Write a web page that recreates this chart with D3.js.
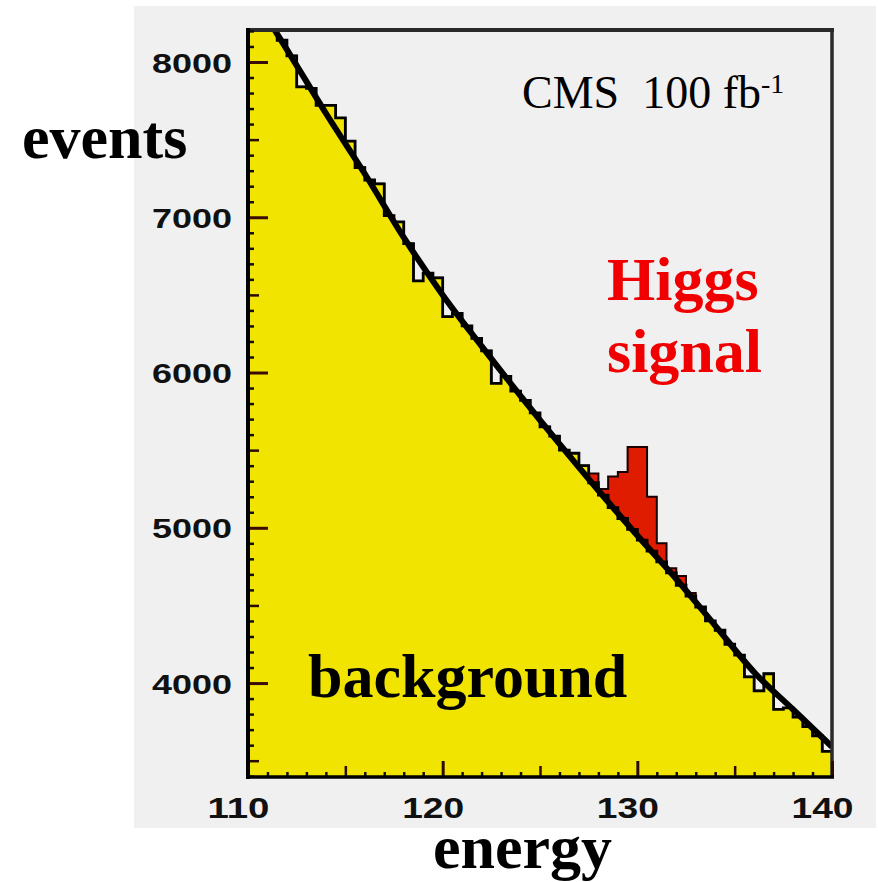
<!DOCTYPE html>
<html>
<head>
<meta charset="utf-8">
<script src="https://cdn.jsdelivr.net/npm/d3@7"></script>
<style>
  html, body { margin: 0; padding: 0; background: #fff; }
  svg { display: block; }
</style>
</head>
<body>
<svg id="chart" width="878" height="882"></svg>
<script>
// --- data ---
const energyRange = [110, 140];
const binWidth = 0.5;
const countRange = [3395, 8206];

// background histogram, 0.5 GeV bins from 110 to 140
const backgroundCounts = [
  8450, 8340, 8220, 8140, 8040, 7840, 7830, 7720, 7720, 7640,
  7490, 7320, 7240, 7215, 7010, 6970, 6830, 6590, 6640, 6610,
  6360, 6380, 6300, 6220, 6140, 5930, 5975, 5880, 5820, 5740,
  5650, 5590, 5500, 5480, 5400, 5290, 5210, 5130, 5060, 4990,
  4920, 4850, 4780, 4710, 4630, 4560, 4490, 4400, 4340, 4250,
  4180, 4040, 3950, 4060, 3830, 3840, 3780, 3720, 3660, 3560
];
// higgs excess on top of the background, same bins
const signalCounts = [
  0, 0, 0, 0, 0, 0, 0, 0, 0, 0,
  0, 0, 0, 0, 0, 0, 0, 0, 0, 0,
  0, 0, 0, 0, 0, 0, 0, 0, 0, 0,
  0, 0, 0, 0, 0, 60, 40, 200, 300, 530,
  600, 350, 120, 30, 60, 20, 0, 0, 0, 0,
  0, 0, 0, 0, 0, 0, 0, 0, 0, 0
];
// smooth background fit
const fitEnergy = [110, 112, 114, 116, 118, 120, 122, 124, 126, 128, 130, 132, 134, 136, 138, 140];
const fitCounts = [8480, 8080, 7670, 7280, 6870, 6500, 6170, 5850, 5540, 5240, 4950, 4670, 4370, 4070, 3830, 3590];

const xTicks = [110, 120, 130, 140];
const yTicks = [4000, 5000, 6000, 7000, 8000];

// --- layout ---
const plot = { left: 248, right: 832, top: 30, bottom: 777 };
const svg = d3.select("#chart");

const x = d3.scaleLinear().domain(energyRange).range([plot.left, plot.right]);
const y = d3.scaleLinear().domain(countRange).range([plot.bottom, plot.top]);

// grey panel behind the whole figure
svg.append("rect")
  .attr("x", 134).attr("y", 6).attr("width", 742).attr("height", 822)
  .attr("fill", "#f0f0f0");

svg.append("clipPath").attr("id", "clip")
  .append("rect")
  .attr("x", plot.left).attr("y", plot.top)
  .attr("width", plot.right - plot.left).attr("height", plot.bottom - plot.top);

const g = svg.append("g").attr("clip-path", "url(#clip)");

const binStarts = backgroundCounts.map((_, i) => energyRange[0] + i * binWidth);
const stepData = vals => {
  const pts = vals.map((v, i) => ({ e: binStarts[i], v }));
  pts.push({ e: energyRange[1], v: vals[vals.length - 1] });
  return pts;
};

const area = d3.area()
  .x(d => x(d.e)).y0(y(countRange[0]) + 5).y1(d => y(d.v))
  .curve(d3.curveStepAfter);
const stepLine = d3.line()
  .x(d => x(d.e)).y(d => y(d.v))
  .curve(d3.curveStepAfter);

const totalCounts = backgroundCounts.map((v, i) => v + signalCounts[i]);

// signal + background (red), then background (yellow) on top
g.append("path").datum(stepData(totalCounts))
  .attr("d", area).attr("fill", "#e01c00");
g.append("path").datum(stepData(totalCounts))
  .attr("d", stepLine).attr("fill", "none")
  .attr("stroke", "#1a0000").attr("stroke-width", 2);

g.append("path").datum(stepData(backgroundCounts))
  .attr("d", area).attr("fill", "#f0e400");
g.append("path").datum(stepData(backgroundCounts))
  .attr("d", stepLine).attr("fill", "none")
  .attr("stroke", "#000").attr("stroke-width", 2.8);

// background fit curve
g.append("path")
  .datum(fitEnergy.map((e, i) => ({ e, v: fitCounts[i] })))
  .attr("d", d3.line().x(d => x(d.e)).y(d => y(d.v)).curve(d3.curveMonotoneX))
  .attr("fill", "none").attr("stroke", "#000").attr("stroke-width", 6);

// --- frame ---
svg.append("line")
  .attr("x1", plot.left).attr("x2", plot.right + 2)
  .attr("y1", plot.top).attr("y2", plot.top)
  .attr("stroke", "#2a2a2a").attr("stroke-width", 4);
svg.append("line")
  .attr("x1", plot.right).attr("x2", plot.right)
  .attr("y1", plot.top).attr("y2", plot.bottom)
  .attr("stroke", "#2a2a2a").attr("stroke-width", 3.5);

// --- axes: minor, medium and major ticks drawn inward ---
const yMinor = d3.range(3400, 8201, 100);

const yAxisG = svg.append("g").attr("transform", `translate(${plot.left},0)`)
  .call(d3.axisLeft(y).tickValues(yMinor.filter(v => v % 500 !== 0)).tickSize(-6).tickFormat(""));
yAxisG.selectAll(".tick line").attr("stroke", "#111").attr("stroke-width", 2.5);
yAxisG.select(".domain").remove();

const yMid = svg.append("g").attr("transform", `translate(${plot.left},0)`)
  .call(d3.axisLeft(y).tickValues(yMinor.filter(v => v % 500 === 0 && v % 1000 !== 0)).tickSize(-11).tickFormat(""));
yMid.selectAll(".tick line").attr("stroke", "#2a0a05").attr("stroke-width", 2.5);
yMid.select(".domain").remove();

const yMaj = svg.append("g").attr("transform", `translate(${plot.left},0)`)
  .call(d3.axisLeft(y).tickValues(yTicks).tickSize(-20).tickPadding(16).tickFormat(d3.format("d")));
yMaj.selectAll(".tick line").attr("stroke", "#3a0c06").attr("stroke-width", 3);
yMaj.select(".domain").remove();
yMaj.selectAll(".tick text")
  .attr("fill", "#111")
  .attr("font-family", "'Liberation Sans', Arial, sans-serif")
  .attr("font-weight", "bold")
  .attr("font-size", 28)
  .attr("dy", "0.36em")
  .attr("textLength", 80)
  .attr("lengthAdjust", "spacingAndGlyphs");

const xMinor = d3.range(111, 140, 1);
const xAxisG = svg.append("g").attr("transform", `translate(0,${plot.bottom})`)
  .call(d3.axisBottom(x).tickValues(xMinor.filter(v => v % 5 !== 0)).tickSize(-5).tickFormat(""));
xAxisG.selectAll(".tick line").attr("stroke", "#111").attr("stroke-width", 2.5);
xAxisG.select(".domain").remove();

const xMid = svg.append("g").attr("transform", `translate(0,${plot.bottom})`)
  .call(d3.axisBottom(x).tickValues(xMinor.filter(v => v % 5 === 0 && v % 10 !== 0)).tickSize(-11).tickFormat(""));
xMid.selectAll(".tick line").attr("stroke", "#2a0a05").attr("stroke-width", 2.5);
xMid.select(".domain").remove();

const xMaj = svg.append("g").attr("transform", `translate(0,${plot.bottom})`)
  .call(d3.axisBottom(x).tickValues(xTicks).tickSize(-16).tickPadding(20).tickFormat(d3.format("d")));
xMaj.selectAll(".tick line").attr("stroke", "#2a0a05").attr("stroke-width", 3);
xMaj.select(".domain").remove();
xMaj.selectAll(".tick text")
  .attr("fill", "#111")
  .attr("font-family", "'Liberation Sans', Arial, sans-serif")
  .attr("font-weight", "bold")
  .attr("font-size", 30)
  .attr("dx", -10)
  .attr("textLength", 62)
  .attr("lengthAdjust", "spacingAndGlyphs");

// axis lines
svg.append("line")
  .attr("x1", plot.left).attr("x2", plot.left)
  .attr("y1", plot.top - 2).attr("y2", plot.bottom + 2)
  .attr("stroke", "#000").attr("stroke-width", 4);
svg.append("line")
  .attr("x1", plot.left - 2).attr("x2", plot.right + 2)
  .attr("y1", plot.bottom).attr("y2", plot.bottom)
  .attr("stroke", "#000").attr("stroke-width", 3.5);

// --- labels ---
const serif = "'Liberation Serif', 'Times New Roman', serif";
const label = (txt, px, py, opts = {}) => svg.append("text")
  .attr("x", px).attr("y", py)
  .attr("font-family", serif)
  .attr("font-weight", opts.weight || "bold")
  .attr("font-size", opts.size || 62)
  .attr("fill", opts.fill || "#000")
  .style("white-space", "pre")
  .text(txt);

label("events", 22, 158);
label("energy", 433, 868);
label("background", 308, 697);
label("Higgs", 607, 300, { fill: "#f00000" });
label("signal", 607, 372, { fill: "#f00000" });

const cms = label("CMS  100 fb", 522, 108, { weight: "normal", size: 46 });
cms.append("tspan").attr("dy", -15).attr("font-size", 28).text("-1");
</script>
</body>
</html>
